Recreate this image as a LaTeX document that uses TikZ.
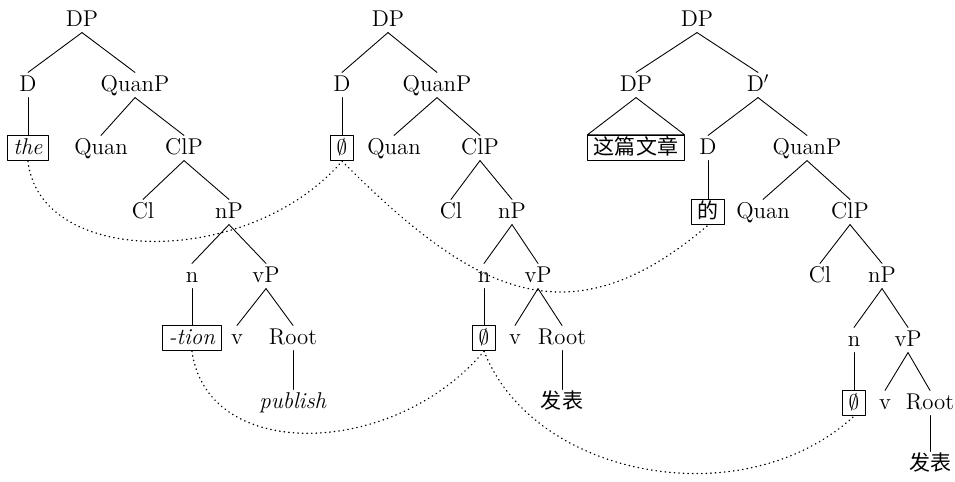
\documentclass[tikz,border=0pt]{standalone}
\usepackage{fontspec}
\newfontfamily\cjk[Scale=0.92]{Noto Sans CJK SC}
\begin{document}
\begin{tikzpicture}[x=0.02cm, y=0.02cm, font=\fontsize{13}{15}\selectfont, line join=round, line cap=round,
 every node/.style={inner xsep=1pt, inner ysep=2pt, text height=2ex, text depth=.3ex},
 wbox/.style={draw, line width=.5pt, inner xsep=3.5pt, inner ysep=2.3pt},
 link/.style={line width=.75pt, dash pattern=on .3pt off 2.3pt}]
 \useasboundingbox (0,0) rectangle (955,-481);
 % tree 1
 \node (t1dp) at (82,-20) {DP};
 \node (t1d) at (28,-85) {D};
 \node (t1quanp) at (135,-85) {QuanP};
 \node[wbox] (t1the) at (28,-148) {\textit{the}};
 \node (t1quan) at (101,-148) {Quan};
 \node (t1clp) at (184,-148) {ClP};
 \node (t1cl) at (143,-212) {Cl};
 \node (t1np) at (229,-212) {nP};
 \node (t1n) at (192,-276) {n};
 \node (t1vp) at (266,-276) {vP};
 \node[wbox] (t1tion) at (192,-338) {\textit{-tion}};
 \node (t1v) at (237,-338) {v};
 \node (t1root) at (293,-338) {Root};
 \node (t1pub) at (293,-402) {\textit{publish}};
 % tree 2
 \node (t2dp) at (388,-20) {DP};
 \node (t2d) at (342,-85) {D};
 \node (t2quanp) at (437,-85) {QuanP};
 \node[wbox] (t2null) at (342,-148) {$\emptyset$};
 \node (t2quan) at (394,-148) {Quan};
 \node (t2clp) at (480,-148) {ClP};
 \node (t2cl) at (451,-212) {Cl};
 \node (t2np) at (512,-212) {nP};
 \node (t2n) at (484,-276) {n};
 \node (t2vp) at (538,-276) {vP};
 \node[wbox] (t2nulln) at (484,-338) {$\emptyset$};
 \node (t2v) at (515,-338) {v};
 \node (t2root) at (562,-338) {Root};
 \node (t2fb) at (562,-402) {\cjk 发表};
 % tree 3
 \node (t3dp) at (697,-20) {DP};
 \node (t3spec) at (636,-85) {DP};
 \node (t3dbar) at (758,-85) {D$'$};
 \node[wbox] (t3text) at (636,-148) {\cjk 这篇文章};
 \node (t3d) at (708,-148) {D};
 \node (t3quanp) at (807,-148) {QuanP};
 \node[wbox] (t3de) at (708,-212) {\cjk 的};
 \node (t3quan) at (763,-212) {Quan};
 \node (t3clp) at (850,-212) {ClP};
 \node (t3cl) at (820,-276) {Cl};
 \node (t3np) at (882,-276) {nP};
 \node (t3n) at (854,-340) {n};
 \node (t3vp) at (908,-340) {vP};
 \node[wbox] (t3null) at (854,-403) {$\emptyset$};
 \node (t3v) at (885,-403) {v};
 \node (t3root) at (930,-403) {Root};
 \node (t3fb) at (930,-464) {\cjk 发表};
 \foreach \a/\b in {t1dp/t1d,t1dp/t1quanp,t1d/t1the,t1quanp/t1quan,t1quanp/t1clp,t1clp/t1cl,t1clp/t1np,
   t1np/t1n,t1np/t1vp,t1n/t1tion,t1vp/t1v,t1vp/t1root,t1root/t1pub,
   t2dp/t2d,t2dp/t2quanp,t2d/t2null,t2quanp/t2quan,t2quanp/t2clp,t2clp/t2cl,t2clp/t2np,
   t2np/t2n,t2np/t2vp,t2n/t2nulln,t2vp/t2v,t2vp/t2root,t2root/t2fb,
   t3dp/t3spec,t3dp/t3dbar,t3dbar/t3d,t3dbar/t3quanp,t3d/t3de,t3quanp/t3quan,t3quanp/t3clp,
   t3clp/t3cl,t3clp/t3np,t3np/t3n,t3np/t3vp,t3n/t3null,t3vp/t3v,t3vp/t3root,t3root/t3fb}
  {\draw[line width=.5pt] (\a.south) -- (\b.north);}
 \draw[line width=.5pt] (t3spec.south) -- (t3text.north west) -- (t3text.north east) -- cycle;
 \draw[link] (t1the.south) .. controls +(12,-107) and +(-92,-107) .. (t2null.south);
 \draw[link] (t2null.south) .. controls +(130,-130) and +(-140,-120) .. (t3de.south);
 \draw[link] (t1tion.south) .. controls +(15,-112) and +(-90,-107) .. (t2nulln.south);
 \draw[link] (t2nulln.south) .. controls +(50,-127) and +(-110,-101) .. (t3null.south);
\end{tikzpicture}
\end{document}
